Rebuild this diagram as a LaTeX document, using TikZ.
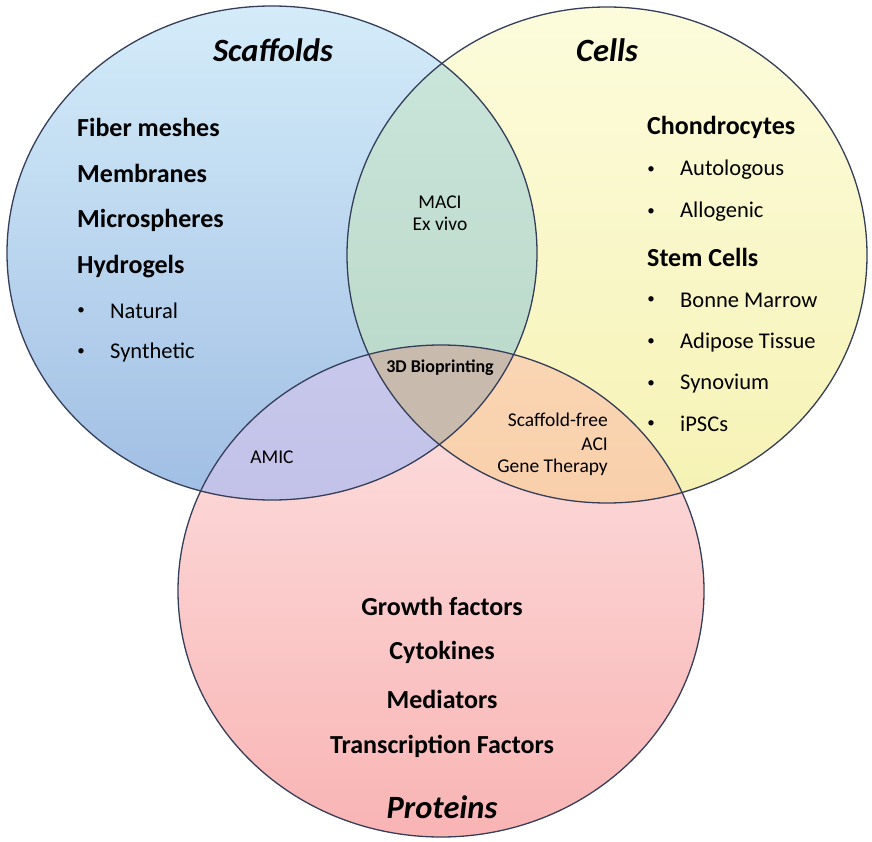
\documentclass[tikz,border=0pt]{standalone}
\usepackage{fontspec}
\setmainfont{Carlito}
\definecolor{outc}{RGB}{52,62,88}
\definecolor{sT}{RGB}{212,236,249}
\definecolor{sB}{RGB}{160,190,228}
\definecolor{cT}{RGB}{252,252,220}
\definecolor{cB}{RGB}{246,242,180}
\definecolor{pT}{RGB}{253,226,226}
\definecolor{pB}{RGB}{249,180,180}
\definecolor{gT}{RGB}{204,230,220}
\definecolor{gB}{RGB}{182,214,198}
\definecolor{vT}{RGB}{200,200,236}
\definecolor{vB}{RGB}{182,178,222}
\definecolor{oT}{RGB}{250,214,180}
\definecolor{oB}{RGB}{246,192,150}
\definecolor{mid}{RGB}{200,186,172}
\begin{document}
\begin{tikzpicture}[x=1pt,y=-1pt,
  outl/.style={draw=outc, line width=1.3pt},
  big/.style={font=\fontsize{26}{30}\selectfont\bfseries, anchor=west, inner sep=0pt},
  sub/.style={font=\fontsize{22.5}{26}\selectfont, anchor=west, inner sep=0pt},
  bul/.style={font=\fontsize{15}{18}\selectfont, inner sep=0pt},
  ttl/.style={font=\fontsize{32.5}{38}\selectfont\bfseries\itshape, inner sep=0pt},
  sm/.style={font=\fontsize{19.5}{23}\selectfont, inner sep=0pt},
  cbig/.style={font=\fontsize{26}{30}\selectfont\bfseries, inner sep=0pt},
  ]
\useasboundingbox (0,0) rectangle (872,842);
\def\pathS{(272,253) ellipse [x radius=265pt, y radius=247pt]}
\def\pathC{(607,255) ellipse [x radius=260pt, y radius=248pt]}
\def\pathP{(441,591) ellipse [x radius=263pt, y radius=246pt]}
% base fills
\shade[top color=sT, bottom color=sB] \pathS;
\shade[top color=cT, bottom color=cB] \pathC;
\shade[top color=pT, bottom color=pB] \pathP;
% pairwise intersections
\begin{scope}
  \clip \pathS;
  \shade[top color=gT, bottom color=gB] \pathC;
\end{scope}
\begin{scope}
  \clip \pathS;
  \shade[top color=vT, bottom color=vB] \pathP;
\end{scope}
\begin{scope}
  \clip \pathC;
  \shade[top color=oT, bottom color=oB] \pathP;
\end{scope}
\begin{scope}
  \clip \pathS;
  \clip \pathC;
  \fill[mid] \pathP;
\end{scope}
% outlines
\draw[outl] \pathS;
\draw[outl] \pathC;
\draw[outl] \pathP;
% titles
\node[ttl] (tS) at (273,50) {Scaffolds};
\node[ttl] (tC) at (607,50) {Cells};
\node[ttl] (tP) at (442,807) {Proteins};
% scaffolds list
\node[big] (s1) at (77,127) {Fiber meshes};
\node[big] (s2) at (77,173) {Membranes};
\node[big] (s3) at (77,220) {Microspheres};
\node[big] (s4) at (77,267) {Hydrogels};
\node[bul] (sb1) at (81,311) {\textbullet};
\node[sub] (s5) at (110,311) {Natural};
\node[bul] (sb2) at (81,352) {\textbullet};
\node[sub] (s6) at (110,352) {Synthetic};
% cells list
\node[big] (c1) at (647,127) {Chondrocytes};
\node[bul] (cb1) at (651,170) {\textbullet};
\node[sub] (c2) at (680,170) {Autologous};
\node[bul] (cb2) at (651,212) {\textbullet};
\node[sub] (c3) at (680,212) {Allogenic};
\node[big] (c4) at (647,257) {Stem Cells};
\node[bul] (cb3) at (651,300) {\textbullet};
\node[sub] (c5) at (680,300) {Bonne Marrow};
\node[bul] (cb4) at (651,342) {\textbullet};
\node[sub] (c6) at (680,342) {Adipose Tissue};
\node[bul] (cb5) at (651,384) {\textbullet};
\node[sub] (c7) at (680,384) {Synovium};
\node[bul] (cb6) at (651,424) {\textbullet};
\node[sub] (c8) at (680,424) {iPSCs};
% intersections
\node[sm] (m1) at (440,202) {MACI};
\node[sm] (m2) at (440,224) {Ex vivo};
\node[sm, font=\fontsize{18}{21}\selectfont\bfseries] (bp) at (440,368) {3D Bioprinting};
\node[sm, anchor=east] (o1) at (608,420) {Scaffold-free};
\node[sm, anchor=east] (o2) at (608,444) {ACI};
\node[sm, anchor=east] (o3) at (608,467) {Gene Therapy};
\node[sm] (am) at (272,457) {AMIC};
% proteins list
\node[cbig] (p1) at (442,606) {Growth factors};
\node[cbig] (p2) at (442,652) {Cytokines};
\node[cbig] (p3) at (442,699) {Mediators};
\node[cbig] (p4) at (442,746) {Transcription Factors};
\end{tikzpicture}
\end{document}
